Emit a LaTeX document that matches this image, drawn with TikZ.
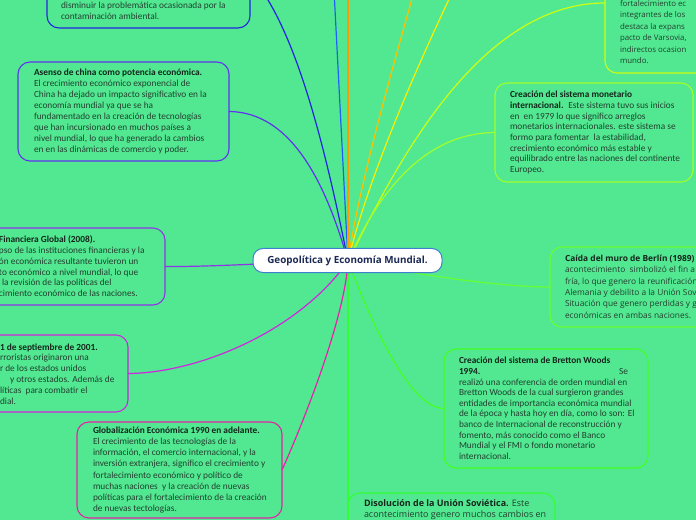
\documentclass[tikz,border=0pt]{standalone}
\usepackage{fontspec}
\setmainfont{Carlito}
\newfontfamily\osans{Open Sans}
\definecolor{bg}{HTML}{52E891}
\definecolor{txtc}{HTML}{22402F}
\definecolor{boldc}{HTML}{13261C}
\definecolor{cA}{HTML}{2424E0}
\definecolor{cB}{HTML}{1E62F5}
\definecolor{cC}{HTML}{FF9A00}
\definecolor{cD}{HTML}{FFC000}
\definecolor{cE}{HTML}{FAF000}
\definecolor{cF}{HTML}{CCFF11}
\definecolor{cG}{HTML}{A0FF2A}
\definecolor{cH}{HTML}{66FF33}
\definecolor{cI}{HTML}{44FF22}
\definecolor{cJ}{HTML}{33FF33}
\definecolor{cK}{HTML}{5F33EE}
\definecolor{cL}{HTML}{9033E6}
\definecolor{cM}{HTML}{D024E0}
\definecolor{cN}{HTML}{E820AA}
\definecolor{titleb}{HTML}{3F7FD0}
\definecolor{titlet}{HTML}{1B2A55}
\newcommand\mystrut{\rule{0pt}{9pt}}
\newcommand\bt[1]{{\bfseries\color{boldc}#1}}
\begin{document}
\begin{tikzpicture}[x=1bp,y=-1bp,
  box/.style={draw, line width=1.1bp, rounded corners=12bp, fill=bg, inner sep=0pt, outer sep=0pt, anchor=north west},
  conn/.style={line width=1.2bp},
  txt/.style={anchor=north west, inner sep=0pt, outer sep=0pt, align=left, text=txtc},
  seg/.style={txt, font=\fontsize{9.35}{11.1}\selectfont},
  ops/.style={txt, font=\osans\fontsize{#1}{11.4}\selectfont}]
\useasboundingbox (0,0) rectangle (696,520);
\clip (0,0) rectangle (696,520);
\fill[bg] (0,0) rectangle (696,520);
\coordinate (hub) at (348,261);
% boxes (nodes)
\node[box, draw=cA, minimum width=203bp, minimum height=106bp] (b1) at (47,-78) {};
\node[box, draw=cK, minimum width=211bp, minimum height=99bp] (b2) at (18,62) {};
\node[box, draw=cL, minimum width=185bp, minimum height=77bp] (b3) at (-20,228) {};
\node[box, draw=cM, minimum width=148bp, minimum height=77bp] (b4) at (-20,335) {};
\node[box, draw=cN, minimum width=205bp, minimum height=96bp] (b5) at (77,422) {};
\node[box, draw=cF, minimum width=120bp, minimum height=140bp] (b6) at (605,-67) {};
\node[box, draw=cG, minimum width=198bp, minimum height=99bp] (b7) at (495,83) {};
\node[box, draw=cH, minimum width=180bp, minimum height=80bp] (b8) at (550,247) {};
\node[box, draw=cI, minimum width=204bp, minimum height=119bp] (b9) at (444,349) {};
\node[box, draw=cJ, minimum width=207bp, minimum height=94bp] (b10) at (348,493) {};
\coordinate (t2) at (334,-10);
\coordinate (t3) at (348,-10);
\coordinate (t4) at (413,-5);
\coordinate (t5) at (451,-5);
% connectors
\begin{scope}[on background layer/.style={}]
\draw[conn, cA] (hub) .. controls (320,120) and (290,20) .. (b1.east);
\draw[conn, cB] (hub) -- (t2);
\draw[conn, cC] (hub) -- (t3);
\draw[conn, cD] (hub) .. controls (360,180) and (395,60) .. (t4);
\draw[conn, cE] (hub) .. controls (370,170) and (425,50) .. (t5);
\draw[conn, cF] (hub) .. controls (385,190) and (470,3) .. (b6.west);
\draw[conn, cG] (hub) .. controls (375,200) and (420,133) .. (b7.west);
\draw[conn, cH] (hub) .. controls (420,275) and (500,287) .. (b8.west);
\draw[conn, cI] (hub) .. controls (370,320) and (410,409) .. (b9.west);
\draw[conn, cJ] (hub) -- (b10.west);
\draw[conn, cK] (hub) .. controls (325,180) and (290,112) .. (b2.east);
\draw[conn, cL] (hub) .. controls (300,261) and (220,267) .. (b3.east);
\draw[conn, cM] (hub) .. controls (300,330) and (200,373) .. (b4.east);
\draw[conn, cN] (hub) .. controls (345,320) and (300,430) .. (b5.east);
\end{scope}
% texts
\node[seg] (x1) at (61,-0.2) {\mystrut disminuir la problemática ocasionada por la\\contaminación ambiental.};
\node[seg] (x2) at (34,66.1) {\mystrut\bt{Asenso de china como potencia económica.}\\El crecimiento económico exponencial de\\China ha dejado un impacto significativo en la\\economía mundial ya que se ha\\fundamentado en la creación de tecnologías\\que han incursionado en muchos países a\\nivel mundial, lo que ha generado la cambios\\en en las dinámicas de comercio y poder.};
\node[txt, font=\fontsize{9.35}{10.8}\selectfont] (x3) at (-1,233.8) {\mystrut\bt{Financiera Global (2008).}\\pso de las instituciones financieras y la\\ón económica resultante tuvieron un\\to económico a nivel mundial, lo que\\\hspace*{3bp}la revisión de las políticas del\\cimiento económico de las naciones.};
\node[txt, font=\fontsize{9.35}{10.9}\selectfont] (x4) at (0,341.1) {\mystrut\bt{1 de septiembre de 2001.}\\rroristas originaron una\\r de los estados unidos\\\hspace*{10bp}y otros estados. Además de\\líticas~ para combatir el\\dial.};
\node[seg] (x5) at (93,424.8) {\mystrut\bt{Globalización Económica 1990 en adelante.}\\El crecimiento de las tecnologías de la\\información, el comercio internacional, y la\\inversión extranjera, significo el crecimiento y\\fortalecimiento económico y político de\\muchas naciones~ y la creación de nuevas\\políticas para el fortalecimiento de la creación\\de nuevas tectologías.};
\node[txt, font=\osans\fontsize{7.9}{11.5}\selectfont] (x6) at (620,-2.6) {\mystrut fortalecimiento ec\\integrantes de los\\destaca la expans\\pacto de Varsovia,\\indirectos ocasion\\mundo.};
\node[txt, font=\fontsize{9.35}{10.7}\selectfont] (x7) at (510,88.8) {\mystrut\bt{Creación del sistema monetario}\\\bt{internacional.}~ Este sistema tuvo sus inicios\\en~ en 1979 lo que significo arreglos\\monetarios internacionales. este sistema se\\formo para fomentar~ la estabilidad,\\crecimiento económico más estable y\\equilibrado entre las naciones del continente\\Europeo.};
\node[ops=8.4] (x8) at (565,252.5) {\mystrut\bt{Caída del muro de Berlín (1989)}\\acontecimiento~ simbolizó el fin a\\fría, lo que genero la reunificación\\Alemania y debilito a la Unión Sov\\Situación que genero perdidas y g\\económicas en ambas naciones.};
\node[txt, font=\fontsize{9.35}{10.67}\selectfont] (x9) at (459,354.8) {\mystrut\bt{Creación del sistema de Bretton Woods}\\\makebox[160bp][l]{\bt{1994.}}Se\\realizó una conferencia de orden mundial en\\Bretton Woods de la cual surgieron grandes\\entidades de importancia económica mundial\\de la época y hasta hoy en día, como lo son: El\\banco de Internacional de reconstrucción y\\fomento, más conocido como el Banco\\Mundial y el FMI o fondo monetario\\internacional.};
\node[txt, font=\osans\fontsize{9.0}{11}\selectfont] (x10) at (364,497.3) {\mystrut\bt{Disolución de la Unión Soviética.} Este\\acontecimiento genero muchos cambios en};
% central node
\node[draw=titleb, line width=1bp, fill=white, rounded corners=10bp, minimum width=189bp, minimum height=24bp, inner sep=0pt, text=titlet, font=\osans\bfseries\fontsize{9.9}{12}\selectfont] (c) at (347.5,260.5) {Geopolítica y Economía Mundial.};
\end{tikzpicture}
\end{document}
